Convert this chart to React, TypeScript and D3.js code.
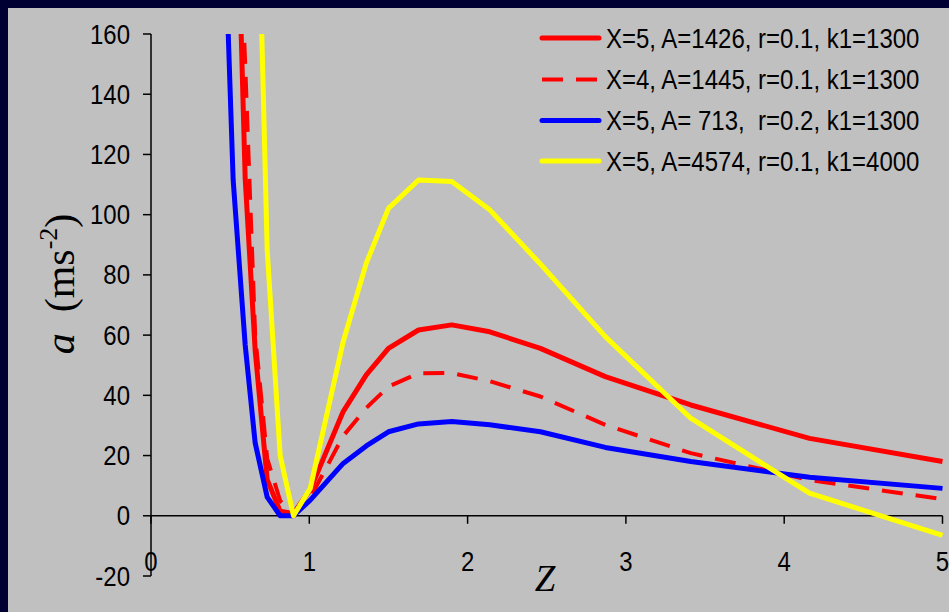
import React from "react";
import * as d3 from "d3";

// Dimensionless distance Z (shared sampling for every series)
const zValues = [0.47, 0.519, 0.595, 0.658, 0.734, 0.816, 0.9, 1.006, 1.214, 1.36, 1.5, 1.69, 1.9, 2.14, 2.46, 2.87, 3.41, 4.16, 5.0];

// Acceleration a (m s^-2) for each parameter set
const redSolid = [350, 256, 112, 55, 12, 1.5, 0.8, 8.6, 34.6, 46.8, 55.6, 61.7, 63.4, 61.1, 55.6, 46.2, 36.8, 25.7, 18.0];
const redDashed = [315, 250, 150, 60, 19, 5, 0, 6, 26.5, 35.8, 42.9, 47.3, 47.4, 44.7, 39.6, 30.2, 20.8, 11.9, 5.5];
const blueSolid = [188, 111.5, 56.7, 24.2, 6.2, 0, 0, 5.2, 17.4, 23.2, 27.9, 30.5, 31.3, 30.2, 27.9, 22.7, 18.0, 12.8, 9.1];
const yellowSolid = [650, 540, 380, 248, 88.3, 20, 0, 9.1, 57.8, 83.9, 102.1, 111.5, 111, 101.6, 83.6, 59.5, 32.4, 7.5, -6.5];

const seriesLabels = [
  "X=5, A=1426, r=0.1, k1=1300",
  "X=4, A=1445, r=0.1, k1=1300",
  "X=5, A= 713,  r=0.2, k1=1300",
  "X=5, A=4574, r=0.1, k1=4000",
];
const seriesColors = ["#ff0000", "#ff0000", "#0000ff", "#ffff00"];
const seriesDashed = [false, true, false, false];

const xTicks = [0, 1, 2, 3, 4, 5];
const yTicks = [-20, 0, 20, 40, 60, 80, 100, 120, 140, 160];

const W = 949;
const H = 612;
const plot = { left: 151, right: 942.5, top: 34, bottom: 576 };

const sans = "'Liberation Sans', Arial, sans-serif";
const serif = "'Liberation Serif', 'Times New Roman', serif";

// Text drawn slightly taller than the regular font proportions
function TallText(props: {
  x: number;
  y: number;
  anchor?: "start" | "middle" | "end";
  size: number;
  children: React.ReactNode;
}) {
  const { x, y, anchor = "start", size, children } = props;
  return (
    <text
      transform={`translate(${x},${y}) scale(1,1.12)`}
      textAnchor={anchor}
      fontFamily={sans}
      fontSize={size}
      fill="#000"
      style={{ whiteSpace: "pre" }}
    >
      {children}
    </text>
  );
}

export default function App() {
  const x = d3.scaleLinear().domain([0, 5]).range([plot.left, plot.right]);
  const y = d3.scaleLinear().domain([-20, 160]).range([plot.bottom, plot.top]);

  const allSeries = [redSolid, redDashed, blueSolid, yellowSolid];
  const line = d3
    .line<number>()
    .x((_, i) => x(zValues[i]))
    .y((d) => y(d));

  const legendRows = [38, 79.5, 120.5, 161];

  return (
    <svg
      width={W}
      height={H}
      style={{ position: "absolute", left: 0, top: 0, display: "block" }}
    >
      <defs>
        <clipPath id="plotClip">
          <rect x={plot.left} y={plot.top} width={plot.right - plot.left + 3} height={plot.bottom - plot.top} />
        </clipPath>
      </defs>
      <rect x={0} y={0} width={W} height={H} fill="#000033" />
      <rect x={8} y={8} width={W - 8} height={H - 8} fill="#c0c0c0" />

      {/* axes */}
      <line x1={plot.left} x2={plot.left} y1={plot.top} y2={plot.bottom} stroke="#000" strokeWidth={1.5} />
      <line x1={plot.left} x2={plot.right} y1={y(0)} y2={y(0)} stroke="#000" strokeWidth={1.5} />
      {yTicks.map((t) => (
        <g key={"y" + t}>
          <line x1={plot.left - 8} x2={plot.left} y1={y(t)} y2={y(t)} stroke="#000" strokeWidth={1.5} />
          <TallText x={130} y={y(t) + 9.5} anchor="end" size={24}>
            {t}
          </TallText>
        </g>
      ))}
      {xTicks.map((t) => (
        <g key={"x" + t}>
          <line x1={x(t)} x2={x(t)} y1={y(0)} y2={y(0) + 8} stroke="#000" strokeWidth={1.5} />
          <TallText x={x(t)} y={571} anchor="middle" size={24}>
            {t}
          </TallText>
        </g>
      ))}

      {/* curves */}
      <g clipPath="url(#plotClip)">
        {allSeries.map((s, i) => (
          <path
            key={"s" + i}
            d={line(s) || ""}
            fill="none"
            stroke={seriesColors[i]}
            strokeWidth={seriesDashed[i] ? 4 : 5}
            strokeDasharray={seriesDashed[i] ? "21 13" : undefined}
            strokeLinejoin="round"
          />
        ))}
      </g>

      {/* axis titles */}
      <text
        transform="translate(74,284) rotate(-90)"
        textAnchor="middle"
        fontFamily={serif}
        fontSize={42}
        fill="#000"
        style={{ whiteSpace: "pre" }}
      >
        <tspan fontStyle="italic">a</tspan>
        <tspan>{"  (ms"}</tspan>
        <tspan fontSize={26} dy={-17}>-2</tspan>
        <tspan dy={17}>)</tspan>
      </text>
      <text x={545} y={591} textAnchor="middle" fontFamily={serif} fontStyle="italic" fontSize={37} fill="#000">
        Z
      </text>

      {/* legend */}
      {seriesLabels.map((label, i) => (
        <g key={"l" + i}>
          <line
            x1={542}
            x2={seriesDashed[i] ? 598 : 599}
            y1={legendRows[i]}
            y2={legendRows[i]}
            stroke={seriesColors[i]}
            strokeWidth={seriesDashed[i] ? 4 : 5}
            strokeDasharray={seriesDashed[i] ? "21 13" : undefined}
            strokeLinecap={seriesDashed[i] ? "butt" : "round"}
          />
          <TallText x={606} y={legendRows[i] + 9.5} size={24}>
            {label}
          </TallText>
        </g>
      ))}
    </svg>
  );
}
